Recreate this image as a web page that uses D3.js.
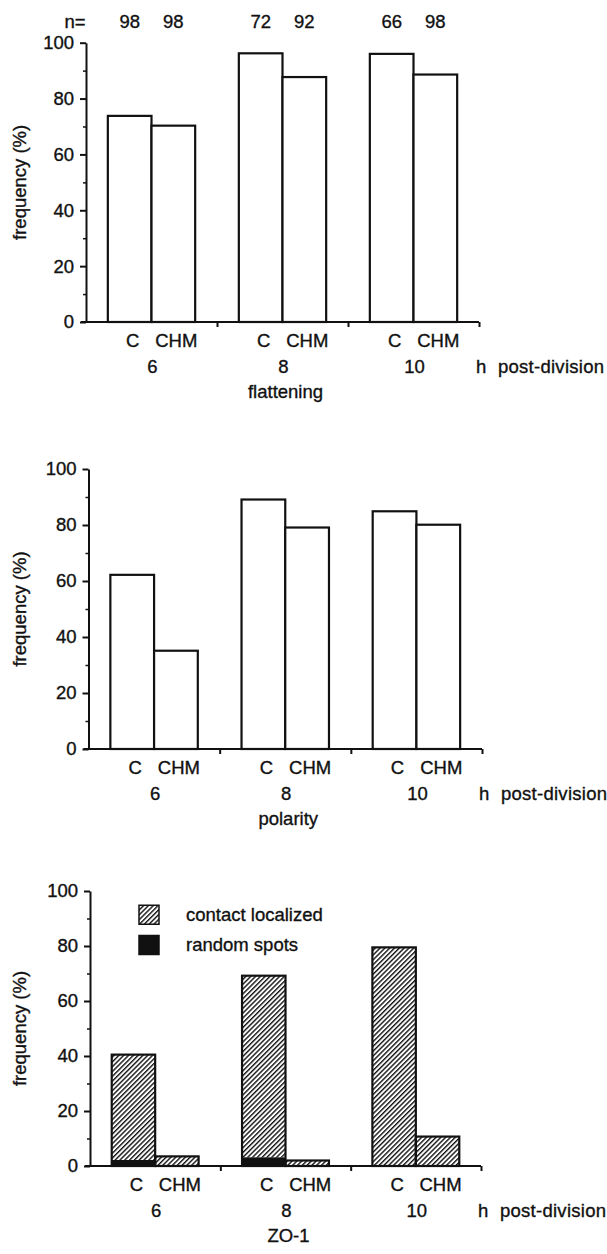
<!DOCTYPE html>
<html>
<head>
<meta charset="utf-8">
<script src="https://cdn.jsdelivr.net/npm/d3@7"></script>
<style>
  body { margin: 0; background: #fff; }
  text { font-family: "Liberation Sans", Arial, Helvetica, sans-serif; font-size: 18.5px; fill: #111; stroke: #111; stroke-width: 0.35px; }
</style>
</head>
<body>
<script>
// values (percent)
var groups = ["6", "8", "10"];
var treatments = ["C", "CHM"];
var nCounts = [98, 98, 72, 92, 66, 98];
var flattening = [73.8, 70.3, 96.2, 87.7, 96.0, 88.6];
var polarity = [62.2, 35.1, 89.1, 79.1, 84.9, 80.1];
var zoContact = [38.3, 3.5, 66.0, 2.0, 79.5, 10.7];
var zoRandom = [2.2, 0, 3.2, 0, 0, 0];
var yTicks = [0, 20, 40, 60, 80, 100];
var yMinor = [10, 30, 50, 70, 90];

var width = 607, height = 1254;

var svg = d3.select("body").append("svg")
    .attr("width", width)
    .attr("height", height);

var defs = svg.append("defs");
var hatch = defs.append("pattern")
    .attr("id", "hatch")
    .attr("patternUnits", "userSpaceOnUse")
    .attr("width", 3.4)
    .attr("height", 3.4)
    .attr("patternTransform", "rotate(45)");
hatch.append("rect").attr("width", 3.4).attr("height", 3.4).attr("fill", "#fff");
hatch.append("line")
    .attr("x1", 0.7).attr("y1", 0).attr("x2", 0.7).attr("y2", 3.4)
    .attr("stroke", "#111").attr("stroke-width", 1.4);

// one row per bar
function rows(vals) {
  var out = [];
  groups.forEach(function(g, i) {
    treatments.forEach(function(t, j) {
      out.push({group: g, treat: t, value: vals[i * 2 + j], idx: i * 2 + j});
    });
  });
  return out;
}

var panels = [
  {title: "flattening", left: 86, right: 479, top: 42.7, bottom: 322, values: flattening, showN: true},
  {title: "polarity", left: 88.5, right: 482, top: 469, bottom: 749, values: polarity},
  {title: "ZO-1", left: 90, right: 481, top: 891, bottom: 1166, stacked: true}
];

panels.forEach(function(p) {
  var g = svg.append("g");

  var y = d3.scaleLinear().domain([0, 100]).range([p.bottom, p.top]);
  var x0 = d3.scaleBand().domain(groups).range([p.left, p.right]).padding(0);
  var x1 = d3.scaleBand().domain(treatments).range([0, x0.bandwidth()])
      .paddingInner(0).paddingOuter(0.5);
  function barX(d) { return x0(d.group) + x1(d.treat); }

  // bars
  if (!p.stacked) {
    g.selectAll("rect.bar")
      .data(rows(p.values))
      .enter().append("rect")
        .attr("class", "bar")
        .attr("x", barX)
        .attr("y", function(d) { return y(d.value); })
        .attr("width", x1.bandwidth())
        .attr("height", function(d) { return y(0) - y(d.value); })
        .attr("fill", "#fff")
        .attr("stroke", "#111")
        .attr("stroke-width", 2.2);
  } else {
    var table = rows(zoRandom).map(function(d, i) {
      return {group: d.group, treat: d.treat, random: zoRandom[i], contact: zoContact[i]};
    });
    var stack = d3.stack().keys(["random", "contact"]);
    var layers = stack(table);
    var fills = {random: "#111", contact: "url(#hatch)"};
    layers.forEach(function(layer) {
      g.selectAll("rect." + layer.key)
        .data(layer)
        .enter().append("rect")
          .attr("class", layer.key)
          .attr("x", function(d) { return barX(d.data); })
          .attr("y", function(d) { return y(d[1]); })
          .attr("width", x1.bandwidth())
          .attr("height", function(d) { return y(d[0]) - y(d[1]); })
          .attr("fill", fills[layer.key])
          .attr("stroke", "none");
    });
    // outline of the whole bar
    g.selectAll("rect.outline")
      .data(table)
      .enter().append("rect")
        .attr("class", "outline")
        .attr("x", barX)
        .attr("y", function(d) { return y(d.random + d.contact); })
        .attr("width", x1.bandwidth())
        .attr("height", function(d) { return y(0) - y(d.random + d.contact); })
        .attr("fill", "none")
        .attr("stroke", "#111")
        .attr("stroke-width", 2.2);

    // legend
    var leg = g.append("g");
    var legItems = [
      {label: "contact localized", fill: "url(#hatch)", val: 95},
      {label: "random spots", fill: "#111", val: 84}
    ];
    leg.selectAll("rect")
      .data(legItems)
      .enter().append("rect")
        .attr("x", 139)
        .attr("y", function(d) { return y(d.val) + 0.5; })
        .attr("width", 20)
        .attr("height", 19)
        .attr("fill", function(d) { return d.fill; })
        .attr("stroke", "#111")
        .attr("stroke-width", 1.5);
    leg.selectAll("text")
      .data(legItems)
      .enter().append("text")
        .attr("x", 186)
        .attr("y", function(d) { return y(d.val) + 16; })
        .text(function(d) { return d.label; });
  }

  // y axis
  var yAxis = d3.axisLeft(y).tickValues(yTicks).tickSize(6).tickSizeOuter(0).tickPadding(6);
  var ya = g.append("g")
      .attr("transform", "translate(" + p.left + ",0)")
      .call(yAxis);
  ya.select(".domain").attr("stroke", "#111").attr("stroke-width", 2);
  ya.selectAll(".tick line").attr("stroke", "#111").attr("stroke-width", 2);
  ya.selectAll(".tick text")
    .attr("font-size", null).attr("font-family", null)
    .attr("fill", "#111");

  var yMinorAxis = d3.axisLeft(y).tickValues(yMinor).tickSize(3).tickSizeOuter(0).tickFormat("");
  var ym = g.append("g")
      .attr("transform", "translate(" + p.left + ",0)")
      .call(yMinorAxis);
  ym.select(".domain").remove();
  ym.selectAll(".tick line").attr("stroke", "#111").attr("stroke-width", 1.5);

  // x axis with ticks at group boundaries
  var xb = d3.scaleLinear().domain([0, 3]).range([p.left, p.right]);
  var xAxis = d3.axisBottom(xb).tickValues([1, 2, 3]).tickSize(5).tickSizeOuter(0).tickFormat("");
  var xa = g.append("g")
      .attr("transform", "translate(0," + p.bottom + ")")
      .call(xAxis);
  xa.select(".domain").attr("stroke", "#111").attr("stroke-width", 2)
    .attr("d", "M" + (p.left - 5) + ",0H" + p.right);
  xa.selectAll(".tick line").attr("stroke", "#111").attr("stroke-width", 2);

  // y label
  g.append("text")
    .attr("transform", "translate(26," + ((p.top + p.bottom) / 2) + ") rotate(-90)")
    .attr("text-anchor", "middle")
    .text("frequency (%)");

  // C / CHM labels
  g.selectAll("text.treat")
    .data(rows(groups.concat(groups)))
    .enter().append("text")
      .attr("class", "treat")
      .attr("x", function(d) { return barX(d) + x1.bandwidth() / 2 + 3; })
      .attr("y", p.bottom + 24.5)
      .attr("text-anchor", "middle")
      .text(function(d) { return d.treat; });

  // group numbers
  g.selectAll("text.grp")
    .data(groups)
    .enter().append("text")
      .attr("class", "grp")
      .attr("x", function(d) { return x0(d) + x0.bandwidth() / 2 + 1; })
      .attr("y", p.bottom + 50.5)
      .attr("text-anchor", "middle")
      .text(function(d) { return d; });

  g.append("text")
    .attr("x", p.right - 3)
    .attr("y", p.bottom + 50.5)
    .text("h");
  g.append("text")
    .attr("x", p.right + 19)
    .attr("y", p.bottom + 50.5)
    .attr("textLength", 106)
    .text("post-division");

  g.append("text")
    .attr("x", (p.left + p.right) / 2 + 3)
    .attr("y", p.bottom + 75.5)
    .attr("text-anchor", "middle")
    .text(p.title);

  // sample sizes
  if (p.showN) {
    g.append("text")
      .attr("x", 75)
      .attr("y", 28)
      .attr("text-anchor", "middle")
      .text("n=");
    g.selectAll("text.n")
      .data(rows(nCounts))
      .enter().append("text")
        .attr("class", "n")
        .attr("x", function(d) { return barX(d) + x1.bandwidth() / 2; })
        .attr("y", 28)
        .attr("text-anchor", "middle")
        .text(function(d) { return d.value; });
  }
});
</script>
</body>
</html>
